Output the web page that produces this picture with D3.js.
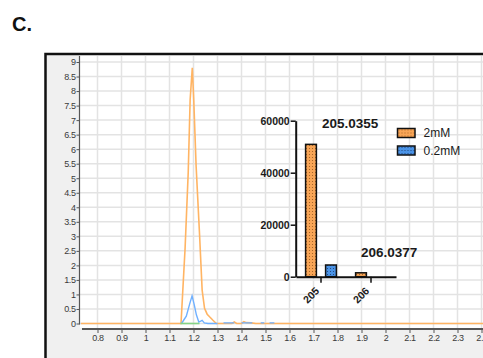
<!DOCTYPE html>
<html>
<head>
<meta charset="utf-8">
<script src="https://cdn.jsdelivr.net/npm/d3@7"></script>
<style>
body { margin: 0; background: #fff; }
</style>
</head>
<body>
<div id="canvas"></div>
<script>
"use strict"

/* values */
let mainXTicks = [0.8, 0.9, 1, 1.1, 1.2, 1.3, 1.4, 1.5, 1.6, 1.7, 1.8, 1.9, 2, 2.1, 2.2, 2.3, 2.4];
let mainYTicks = [0, 0.5, 1, 1.5, 2, 2.5, 3, 3.5, 4, 4.5, 5, 5.5, 6, 6.5, 7, 7.5, 8, 8.5, 9];

// chromatogram traces [time, intensity]
let orangeTrace = [[0.73, 0], [1.148, 0], [1.165, 2.6], [1.178, 5.2], [1.186, 7.7], [1.195, 8.8],
    [1.201, 7.7], [1.211, 5.4], [1.225, 3.1], [1.236, 1.15], [1.246, 0.52], [1.257, 0.32],
    [1.267, 0.23], [1.28, 0.12], [1.295, 0], [1.36, 0], [1.37, 0.05], [1.38, 0], [1.40, 0],
    [1.41, 0.06], [1.42, 0.03], [1.44, 0.02], [1.46, 0], [2.45, 0]];
let blueTrace = [[1.15, 0], [1.17, 0.25], [1.185, 0.7], [1.194, 0.95], [1.203, 0.65], [1.212, 0.3],
    [1.222, 0.05], [1.23, 0.08], [1.236, 0.11], [1.245, 0.02], [1.26, 0], [1.30, 0], [1.31, null],
    [1.325, 0.02], [1.37, 0.02], [1.38, null], [1.40, 0.02], [1.445, 0.02], [1.46, null],
    [1.48, 0.02], [1.495, 0.02], [1.50, null], [1.517, 0.02], [1.537, 0.02]];
let greenTrace = [[1.145, 0], [1.225, 0]];

// inset bar chart
let barCategories = ["205", "206"];
let barSeries = ["2mM", "0.2mM"];
let values2mM = [50900, 1500];
let values02mM = [4500, 0];
let barYTicks = [0, 20000, 40000, 60000];
let peakLabels = ["205.0355", "206.0377"];

/* set up the drawing */
let drawing = d3.select("#canvas")
    .append("svg")
    .attr("width", 483)
    .attr("height", 358);

let defs = drawing.append("defs");
defs.append("clipPath").attr("id", "plotClip")
    .append("rect").attr("x", 81).attr("y", 56).attr("width", 402).attr("height", 272);

function dotPattern(id, base, dot) {
    let p = defs.append("pattern")
        .attr("id", id)
        .attr("width", 3)
        .attr("height", 3)
        .attr("patternUnits", "userSpaceOnUse");
    p.append("rect").attr("width", 3).attr("height", 3).attr("fill", base);
    p.append("circle").attr("cx", 1.5).attr("cy", 1.5).attr("r", 0.55).attr("fill", dot);
}
dotPattern("dotsOrange", "#f8a556", "#9a5a1e");
dotPattern("dotsBlue", "#4a93e6", "#1d3f70");

// title
drawing.append("text")
    .attr("x", 12)
    .attr("y", 31)
    .attr("font-family", "Liberation Sans, Arial, sans-serif")
    .attr("font-weight", "bold")
    .attr("font-size", 20)
    .attr("fill", "#111")
    .text("C.");

// gray panel with black frame on top and left
drawing.append("rect")
    .attr("x", 45)
    .attr("y", 54)
    .attr("width", 438)
    .attr("height", 304)
    .attr("fill", "#f0f0f0");

drawing.append("rect")
    .attr("x", 80)
    .attr("y", 55)
    .attr("width", 403)
    .attr("height", 273)
    .attr("fill", "#fff");

drawing.append("path")
    .attr("d", "M45.5,358 L45.5,54 L483,54")
    .attr("fill", "none")
    .attr("stroke", "#111")
    .attr("stroke-width", 2.5);

/* main chromatogram */
let x = d3.scaleLinear().domain([0.8, 2.4]).range([97.5, 481.5]);
let y = d3.scaleLinear().domain([0, 9]).range([323.5, 62]);

// grid
drawing.append("g").selectAll("line")
    .data(mainYTicks)
    .join("line")
    .attr("x1", 80)
    .attr("x2", 483)
    .attr("y1", d => y(d))
    .attr("y2", d => y(d))
    .attr("stroke", "#e3e3e3")
    .attr("stroke-width", 1.5);

drawing.append("g").selectAll("line")
    .data(mainXTicks)
    .join("line")
    .attr("x1", d => x(d))
    .attr("x2", d => x(d))
    .attr("y1", 56)
    .attr("y2", 328)
    .attr("stroke", "#e3e3e3")
    .attr("stroke-width", 1.5);

// axes
let yAxis = drawing.append("g")
    .attr("transform", "translate(79.5,0)")
    .call(d3.axisLeft(y).tickValues(mainYTicks).tickSize(3).tickPadding(1).tickFormat(d3.format("~g")));
yAxis.select(".domain").remove();
drawing.append("line")
    .attr("x1", 79.5).attr("x2", 79.5)
    .attr("y1", 56).attr("y2", 324.5)
    .attr("stroke", "#555")
    .attr("stroke-width", 1.2);

let xAxis = drawing.append("g")
    .attr("transform", "translate(0,329)")
    .call(d3.axisBottom(x).tickValues(mainXTicks).tickSize(4).tickPadding(2).tickFormat(d3.format("~g")));
xAxis.select(".domain").remove();
drawing.append("line")
    .attr("x1", 82).attr("x2", 483)
    .attr("y1", 329).attr("y2", 329)
    .attr("stroke", "#555")
    .attr("stroke-width", 2);

[yAxis, xAxis].forEach(a => {
    a.selectAll(".tick line").attr("stroke", "#555");
    a.selectAll("text")
        .attr("font-family", "Liberation Sans, Arial, sans-serif")
        .attr("font-size", 9)
        .attr("letter-spacing", -0.4)
        .attr("fill", "#3a3a3a");
});

// traces
let traceLine = d3.line()
    .defined(d => d[1] !== null)
    .x(d => x(d[0]))
    .y(d => y(d[1]));

let traces = drawing.append("g").attr("clip-path", "url(#plotClip)");

traces.append("path")
    .attr("d", traceLine(orangeTrace))
    .attr("fill", "none")
    .attr("stroke", "#ffb463")
    .attr("stroke-width", 1.6);

traces.append("path")
    .attr("d", traceLine(blueTrace))
    .attr("fill", "none")
    .attr("stroke", "#6fb0ff")
    .attr("stroke-width", 1.4);

traces.append("path")
    .attr("d", traceLine(greenTrace))
    .attr("fill", "none")
    .attr("stroke", "#86d486")
    .attr("stroke-width", 1.6);

/* inset bar chart */
let yBar = d3.scaleLinear().domain([0, 60000]).range([276.7, 120.7]);
let xBar = d3.scaleBand().domain(barCategories).range([296, 396]);
let xSub = d3.scaleBand().domain(barSeries).range([0, xBar.bandwidth()]).paddingInner(0.46).paddingOuter(0.48);

let barFills = { "2mM": "url(#dotsOrange)", "0.2mM": "url(#dotsBlue)" };
let barRows = barCategories.map((c, i) => ({ cat: c, vals: [
    { series: "2mM", value: values2mM[i] },
    { series: "0.2mM", value: values02mM[i] }
]}));

let groups = drawing.append("g").selectAll("g")
    .data(barRows)
    .join("g")
    .attr("transform", d => "translate(" + xBar(d.cat) + ",0)");

groups.selectAll("rect")
    .data(d => d.vals.filter(v => v.value > 0))
    .join("rect")
    .attr("x", d => xSub(d.series))
    .attr("y", d => yBar(d.value))
    .attr("width", xSub.bandwidth())
    .attr("height", d => yBar(0) - yBar(d.value))
    .attr("fill", d => barFills[d.series])
    .attr("stroke", "#111")
    .attr("stroke-width", 1.5);

let barYAxis = drawing.append("g")
    .attr("transform", "translate(295.7,0)")
    .call(d3.axisLeft(yBar).tickValues(barYTicks).tickSize(5).tickSizeOuter(0).tickPadding(1).tickFormat(d3.format("d")));

let barXAxis = drawing.append("g")
    .attr("transform", "translate(0,276.7)")
    .call(d3.axisBottom(xBar).tickSize(6).tickSizeOuter(0));

[barYAxis, barXAxis].forEach(a => {
    a.select(".domain").attr("stroke", "#111").attr("stroke-width", 2);
    a.selectAll(".tick line").attr("stroke", "#111").attr("stroke-width", 1.5);
    a.selectAll("text")
        .attr("font-family", "Liberation Sans, Arial, sans-serif")
        .attr("font-weight", "bold")
        .attr("font-size", 10.5)
        .attr("fill", "#1a1a1a");
});

barXAxis.selectAll("text")
    .attr("y", 0)
    .attr("dy", null)
    .attr("text-anchor", "end")
    .attr("transform", "translate(-1,15) rotate(-45)");

// peak labels above the groups
let peakOffsets = [1, -10];
drawing.append("g").selectAll("text")
    .data(barRows)
    .join("text")
    .attr("x", (d, i) => xBar(d.cat) + xBar.bandwidth() / 2 + peakOffsets[i])
    .attr("y", d => yBar(d3.max(d.vals, v => v.value)) - 16)
    .attr("font-family", "Liberation Sans, Arial, sans-serif")
    .attr("font-weight", "bold")
    .attr("font-size", 13.5)
    .attr("fill", "#1a1a1a")
    .text((d, i) => peakLabels[i]);

// legend
let legend = drawing.append("g").selectAll("g")
    .data(barSeries)
    .join("g")
    .attr("transform", (d, i) => "translate(397.5," + (128.5 + i * 17.5) + ")");

legend.append("rect")
    .attr("width", 17.5)
    .attr("height", 9)
    .attr("fill", d => barFills[d])
    .attr("stroke", "#111")
    .attr("stroke-width", 1.5);

legend.append("text")
    .attr("x", 26)
    .attr("y", 8.5)
    .attr("font-family", "Liberation Sans, Arial, sans-serif")
    .attr("font-size", 12)
    .attr("fill", "#1a1a1a")
    .text(d => d);
</script>
</body>
</html>
